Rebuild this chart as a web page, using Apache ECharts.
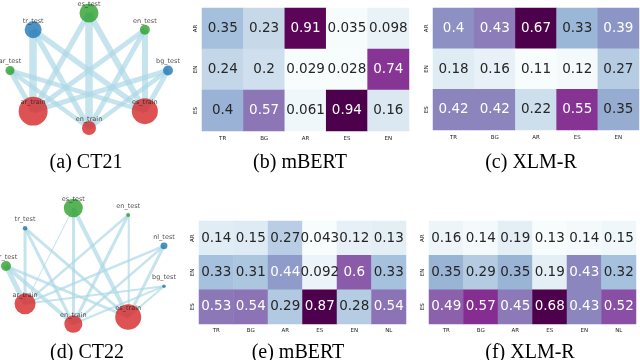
<!DOCTYPE html>
<html>
<head>
<meta charset="utf-8">
<script src="https://cdn.jsdelivr.net/npm/echarts@6/dist/echarts.min.js"></script>
<style>
  html, body { margin: 0; padding: 0; background: #fff; }
  #chart { width: 640px; height: 360px; }
</style>
</head>
<body>
<div id="chart"></div>
<script>
// train languages (rows) and test languages (columns)
const trainLangs = ['AR', 'EN', 'ES'];
const testLangs21 = ['TR', 'BG', 'AR', 'ES', 'EN'];
const testLangs22 = ['TR', 'BG', 'AR', 'ES', 'EN', 'NL'];

// heatmap values, one row per train language
const mbert21 = [
  [0.35, 0.23, 0.91, 0.035, 0.098],
  [0.24, 0.2, 0.029, 0.028, 0.74],
  [0.4, 0.57, 0.061, 0.94, 0.16],
];
const xlmr21 = [
  [0.4, 0.43, 0.67, 0.33, 0.39],
  [0.18, 0.16, 0.11, 0.12, 0.27],
  [0.42, 0.42, 0.22, 0.55, 0.35],
];
const mbert22 = [
  [0.14, 0.15, 0.27, 0.043, 0.12, 0.13],
  [0.33, 0.31, 0.44, 0.092, 0.6, 0.33],
  [0.53, 0.54, 0.29, 0.87, 0.28, 0.54],
];
const xlmr22 = [
  [0.16, 0.14, 0.19, 0.13, 0.14, 0.15],
  [0.35, 0.29, 0.35, 0.19, 0.43, 0.32],
  [0.49, 0.57, 0.45, 0.68, 0.43, 0.52],
];

// network graphs: nodes in circular order, node weights (area), edges [train, test, weight]
const nodes21 = ['bg_test', 'en_test', 'es_test', 'tr_test', 'ar_test', 'ar_train', 'en_train', 'es_train'];
const nodeWeight21 = [11, 11, 40, 32, 9, 93, 22, 75];
const edges21 = [
  ['ar_train', 'tr_test', 7.5], ['ar_train', 'bg_test', 5], ['ar_train', 'ar_test', 5], ['ar_train', 'es_test', 5.5], ['ar_train', 'en_test', 5],
  ['en_train', 'tr_test', 5.5], ['en_train', 'bg_test', 4.5], ['en_train', 'ar_test', 4.5], ['en_train', 'es_test', 7.5], ['en_train', 'en_test', 5],
  ['es_train', 'tr_test', 5.5], ['es_train', 'bg_test', 5], ['es_train', 'ar_test', 4.5], ['es_train', 'es_test', 6], ['es_train', 'en_test', 6],
];
const nodes22 = ['nl_test', 'en_test', 'es_test', 'tr_test', 'ar_test', 'ar_train', 'en_train', 'es_train', 'bg_test'];
const nodeWeight22 = [5.4, 1.8, 40, 2.3, 11, 49, 36, 75, 1.4];
const edges22 = [
  ['ar_train', 'tr_test', 3], ['ar_train', 'es_test', 1], ['ar_train', 'en_test', 2.5], ['ar_train', 'nl_test', 2.5], ['ar_train', 'bg_test', 2], ['ar_train', 'ar_test', 5],
  ['en_train', 'tr_test', 3], ['en_train', 'es_test', 3], ['en_train', 'en_test', 3], ['en_train', 'nl_test', 2.5], ['en_train', 'bg_test', 2], ['en_train', 'ar_test', 4],
  ['es_train', 'tr_test', 3], ['es_train', 'es_test', 4], ['es_train', 'en_test', 2], ['es_train', 'nl_test', 3], ['es_train', 'bg_test', 2], ['es_train', 'ar_test', 3],
];

const captions = ['(a) CT21', '(b) mBERT', '(c) XLM-R', '(d) CT22', '(e) mBERT', '(f) XLM-R'];

const BuPu = ['#f7fcfd', '#e0ecf4', '#bfd3e6', '#9ebcda', '#8c96c6', '#8c6bb1', '#88419d', '#810f7c', '#4d004b'];

// heatmap panels
const panels = [
  { rows: mbert21, cols: testLangs21, box: { left: 202, top: 8, width: 207, height: 123 } },
  { rows: xlmr21, cols: testLangs21, box: { left: 433, top: 8, width: 206, height: 122 } },
  { rows: mbert22, cols: testLangs22, box: { left: 199, top: 221, width: 207, height: 103 } },
  { rows: xlmr22, cols: testLangs22, box: { left: 429, top: 221, width: 207, height: 103 } },
];

const grids = [], xAxes = [], yAxes = [], visualMaps = [], series = [];

panels.forEach((p, i) => {
  const flat = p.rows.flat();
  const vmin = Math.min(...flat);
  const vmax = Math.max(...flat);
  const data = [];
  p.rows.forEach((row, r) => {
    row.forEach((v, c) => {
      const t = (v - vmin) / (vmax - vmin);
      data.push({
        value: [c, r, v],
        label: { color: t > 0.45 ? '#ffffff' : '#262626' },
      });
    });
  });
  grids.push(Object.assign({ containLabel: false }, p.box));
  xAxes.push({
    type: 'category',
    gridIndex: i,
    data: p.cols,
    axisLine: { show: false },
    axisTick: { length: 2, alignWithLabel: true, lineStyle: { color: '#333', width: 0.6 } },
    axisLabel: { fontSize: 5.5, color: '#222', margin: i < 2 ? 5 : 4, fontFamily: 'DejaVu Sans' },
    splitLine: { show: false },
  });
  yAxes.push({
    type: 'category',
    gridIndex: i,
    data: trainLangs,
    inverse: true,
    axisLine: { show: false },
    axisTick: { length: 2, alignWithLabel: true, lineStyle: { color: '#333', width: 0.6 } },
    axisLabel: { fontSize: 5.5, color: '#222', margin: 3, rotate: 90, fontFamily: 'DejaVu Sans' },
    splitLine: { show: false },
  });
  visualMaps.push({
    type: 'continuous',
    show: false,
    seriesIndex: i,
    dimension: 2,
    min: vmin,
    max: vmax,
    inRange: { color: BuPu },
  });
  series.push({
    type: 'heatmap',
    xAxisIndex: i,
    yAxisIndex: i,
    data: data,
    label: {
      show: true,
      fontSize: 13.5,
      fontFamily: 'DejaVu Sans',
      formatter: (d) => String(d.value[2]),
    },
    emphasis: { disabled: true },
    animation: false,
  });
});

// graph panels: circular layout stretched to the box, test languages seen in training drawn green
function buildGraph(names, weights, edges, startDeg, box) {
  const n = names.length;
  const rx = box.width / 2;
  const ry = box.height / 2;
  const nodes = names.map((name, k) => {
    const a = (startDeg + (360 / n) * k) * Math.PI / 180;
    const lang = name.split('_')[0].toUpperCase();
    let color = '#d62728';
    if (name.endsWith('_test')) {
      color = trainLangs.includes(lang) ? '#2ca02c' : '#1f77b4';
    }
    return {
      name: name,
      x: rx * Math.cos(a),
      y: -ry * Math.sin(a),
      symbolSize: 3 * Math.sqrt(weights[k]),
      itemStyle: { color: color, opacity: 0.8 },
    };
  });
  const links = edges.map((e) => ({
    source: e[0],
    target: e[1],
    lineStyle: { width: e[2] },
  }));
  return {
    type: 'graph',
    layout: 'none',
    left: box.left,
    top: box.top,
    width: box.width,
    height: box.height,
    roam: false,
    data: nodes,
    links: links,
    lineStyle: { color: '#add8e6', opacity: 0.7, curveness: 0 },
    label: {
      show: true,
      position: 'inside',
      offset: [0, -9],
      fontSize: 6.5,
      color: '#222',
      fontFamily: 'DejaVu Sans',
    },
    emphasis: { disabled: true },
    silent: true,
    animation: false,
  };
}

series.push(buildGraph(nodes21, nodeWeight21, edges21, 0, { left: 10, top: 13, width: 158, height: 115 }));
series.push(buildGraph(nodes22, nodeWeight22, edges22, 20, { left: 6, top: 208, width: 158, height: 116 }));

const captionPos = [[86, 163], [300, 163], [531, 163], [87, 353], [298, 353], [530, 353]];

const chart = echarts.init(document.getElementById('chart'), null, { renderer: 'canvas' });
chart.setOption({
  backgroundColor: '#fff',
  animation: false,
  grid: grids,
  xAxis: xAxes,
  yAxis: yAxes,
  visualMap: visualMaps,
  series: series,
  graphic: captions.map((t, i) => ({
    type: 'text',
    x: captionPos[i][0],
    y: captionPos[i][1],
    style: {
      text: t,
      fill: '#000',
      font: '20px "Liberation Serif"',
      textAlign: 'center',
      textVerticalAlign: 'middle',
    },
  })),
});
</script>
</body>
</html>
